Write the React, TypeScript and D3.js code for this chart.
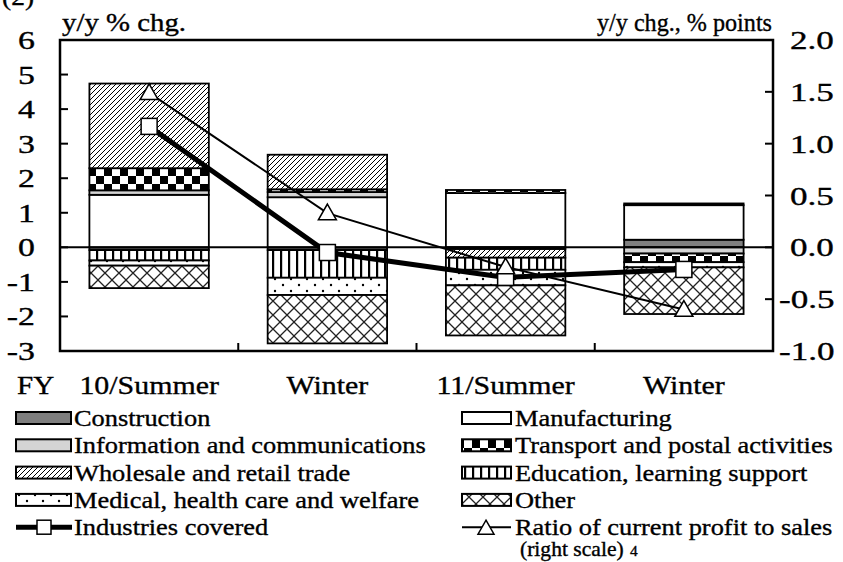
import React from 'react';
import * as d3 from 'd3';

const categories = ['10/Summer', 'Winter', '11/Summer', 'Winter'];

// contributions, y/y % chg. (left scale)
const construction = [-0.08, -0.08, 0, 0.22];
const manufacturing = [1.52, 1.45, 1.57, 1.0];
const infoComm = [0.13, 0.15, -0.05, -0.18];
const transport = [0.64, 0.08, 0.09, -0.25];
const wholesale = [2.45, 1.0, -0.25, 0.05];
const education = [-0.3, -0.8, -0.35, 0];
const medical = [-0.15, -0.5, -0.45, -0.15];
const other = [-0.65, -1.4, -1.45, -1.35];

const industriesCovered = [3.5, -0.15, -0.87, -0.64];
const profitRatio = [1.49, 0.33, -0.19, -0.6]; // right scale

const leftTicks = [-3, -2, -1, 0, 1, 2, 3, 4, 5, 6];
const rightTicks = [-1.0, -0.5, 0.0, 0.5, 1.0, 1.5, 2.0];

const W = 843;
const H = 562;
const FONT = 'Liberation Serif';

const series = [
  { key: 'construction', label: 'Construction', values: construction, fill: '#7f7f7f' },
  { key: 'manufacturing', label: 'Manufacturing', values: manufacturing, fill: '#ffffff' },
  { key: 'infoComm', label: 'Information and communications', values: infoComm, fill: '#d4d4d4' },
  { key: 'transport', label: 'Transport and postal activities', values: transport, fill: 'url(#pat-check)' },
  { key: 'wholesale', label: 'Wholesale and retail trade', values: wholesale, fill: 'url(#pat-hatch)' },
  { key: 'education', label: 'Education, learning support', values: education, fill: 'url(#pat-vert)' },
  { key: 'medical', label: 'Medical, health care and welfare', values: medical, fill: 'url(#pat-dots)' },
  { key: 'other', label: 'Other', values: other, fill: 'url(#pat-diamond)' },
];

const T = ({ x, y, children, anchor = 'start', size = 25, sx = 1.1, len }: any) => (
  <text
    transform={`translate(${x},${y}) scale(${sx},1)`}
    textAnchor={anchor}
    style={{ fontFamily: FONT, fontSize: size }}
    fill="#000"
    stroke="#000"
    strokeWidth={0.35}
    textLength={len}
    lengthAdjust={len ? 'spacingAndGlyphs' : undefined}
  >
    {children}
  </text>
);

const App = () => {
  const left = 60;
  const right = 773;
  const top = 40;
  const bottom = 351;

  const x = d3.scaleBand<number>()
    .domain(categories.map((_, i) => i))
    .range([left, right])
    .paddingInner(0.33)
    .paddingOuter(0.165);
  const cx = (i: number) => (x(i) as number) + x.bandwidth() / 2;
  const yL = d3.scaleLinear().domain([-3, 6]).range([bottom, top]);
  const yR = d3.scaleLinear().domain([-1, 2]).range([bottom, top]);

  const rows = categories.map((_, i) => {
    const r: any = { i };
    series.forEach(s => { r[s.key] = s.values[i]; });
    return r;
  });
  const stacked = d3.stack<any>()
    .keys(series.map(s => s.key))
    .offset(d3.stackOffsetDiverging)(rows);

  const lineL = d3.line<number>().x((_, i) => cx(i)).y(d => yL(d));
  const lineR = d3.line<number>().x((_, i) => cx(i)).y(d => yR(d));

  const step = (right - left) / categories.length;
  const fmtR = (v: number) => d3.format('.1f')(v).replace('−', '-');
  const tri = (px: number, py: number, s = 9) =>
    `M${px},${py - s} L${px + s},${py + s * 0.75} L${px - s},${py + s * 0.75} Z`;

  const legendLeft = [0, 2, 4, 6];
  const legendRight = [1, 3, 5, 7];
  const rowY = (k: number) => 418 + k * 27.3;

  return (
    <svg width={W} height={H} style={{ position: 'absolute', left: 0, top: 0, background: '#fff' }}>
      <defs>
        <pattern id="pat-check" width="16" height="16" patternUnits="userSpaceOnUse">
          <rect width="16" height="16" fill="#fff" />
          <rect x="0" y="0" width="8" height="8" fill="#000" />
          <rect x="8" y="8" width="8" height="8" fill="#000" />
        </pattern>
        <pattern id="pat-hatch" width="5" height="5" patternUnits="userSpaceOnUse">
          <rect width="5" height="5" fill="#fff" />
          <path d="M-1,6 L6,-1 M-1,1 L1,-1 M4,6 L6,4" stroke="#000" strokeWidth="1" />
        </pattern>
        <pattern id="pat-vert" width="8" height="8" patternUnits="userSpaceOnUse">
          <rect width="8" height="8" fill="#fff" />
          <rect x="0" y="0" width="2.2" height="8" fill="#000" />
        </pattern>
        <pattern id="pat-dots" width="16" height="12" patternUnits="userSpaceOnUse">
          <rect width="16" height="12" fill="#fff" />
          <circle cx="3" cy="3" r="1.2" fill="#000" />
          <circle cx="11" cy="9" r="1.2" fill="#000" />
        </pattern>
        <pattern id="pat-diamond" width="14" height="14" patternUnits="userSpaceOnUse">
          <rect width="14" height="14" fill="#fff" />
          <path d="M0,0 L14,14 M14,0 L0,14" stroke="#222" strokeWidth="1.3" />
        </pattern>
      </defs>

      {/* cut-off panel title */}
      <T x={2} y={5}>(2)</T>

      {/* bars */}
      {stacked.map((layer, si) => (
        <g key={layer.key} fill={series[si].fill} stroke="#000" strokeWidth={1.8}>
          {layer.map((d, i) => {
            const h = Math.abs(yL(d[0]) - yL(d[1]));
            if (h < 0.5) return null;
            return (
              <rect
                key={i}
                x={x(i)}
                y={Math.min(yL(d[0]), yL(d[1]))}
                width={x.bandwidth()}
                height={h}
              />
            );
          })}
        </g>
      ))}

      {/* zero line */}
      <line x1={left} x2={right} y1={yL(0)} y2={yL(0)} stroke="#000" strokeWidth={2} />

      {/* frame */}
      <rect x={left} y={top} width={right - left} height={bottom - top} fill="none" stroke="#000" strokeWidth={2.5} />

      {/* left ticks */}
      {leftTicks.map(t => (
        <g key={t}>
          <line x1={left} x2={left + 8} y1={yL(t)} y2={yL(t)} stroke="#000" strokeWidth={2} />
          <T x={35} y={yL(t) + 9} anchor="end" size={26} sx={1.3}>{String(t)}</T>
        </g>
      ))}
      {/* right ticks */}
      {rightTicks.map(t => (
        <g key={t}>
          <line x1={right - 8} x2={right} y1={yR(t)} y2={yR(t)} stroke="#000" strokeWidth={2} />
          <T x={t < 0 ? 779 : 790} y={yR(t) + 9} size={26} sx={1.35}>{fmtR(t)}</T>
        </g>
      ))}
      {/* x ticks between categories */}
      {d3.range(1, categories.length).map(k => (
        <line key={k} x1={left + k * step} x2={left + k * step} y1={bottom} y2={bottom - 8} stroke="#000" strokeWidth={2} />
      ))}

      {/* lines */}
      <path d={lineR(profitRatio) || ''} fill="none" stroke="#000" strokeWidth={2} />
      <path d={lineL(industriesCovered) || ''} fill="none" stroke="#000" strokeWidth={5} />
      {industriesCovered.map((v, i) => (
        <rect key={i} x={cx(i) - 8} y={yL(v) - 8} width={16} height={16} fill="#fff" stroke="#000" strokeWidth={1.5} />
      ))}
      {profitRatio.map((v, i) => (
        <path key={i} d={tri(cx(i), yR(v))} fill="#fff" stroke="#000" strokeWidth={1.5} />
      ))}

      {/* axis titles */}
      <T x={62} y={31} sx={1} len={124}>y/y % chg.</T>
      <T x={597} y={31} sx={1} len={175}>y/y chg., % points</T>

      {/* category labels */}
      <T x={17} y={394} size={26} sx={1.12}>FY</T>
      {categories.map((c, i) => (
        <T key={i} x={cx(i)} y={394} anchor="middle" size={26} sx={1.15}>{c}</T>
      ))}

      {/* legend */}
      {legendLeft.map((si, k) => (
        <g key={series[si].key}>
          <rect x={16} y={rowY(k) - 6} width={55} height={12} fill={series[si].fill} stroke="#000" strokeWidth={2} />
          <T x={74} y={rowY(k) + 8} size={24}>{series[si].label}</T>
        </g>
      ))}
      {legendRight.map((si, k) => (
        <g key={series[si].key}>
          <rect x={462} y={rowY(k) - 6} width={49} height={12} fill={series[si].fill} stroke="#000" strokeWidth={2} />
          <T x={515} y={rowY(k) + 8} size={24}>{series[si].label}</T>
        </g>
      ))}
      <g>
        <line x1={16} x2={72} y1={rowY(4)} y2={rowY(4)} stroke="#000" strokeWidth={5} />
        <rect x={37} y={rowY(4) - 7} width={14} height={14} fill="#fff" stroke="#000" strokeWidth={1.5} />
        <T x={74} y={rowY(4) + 8} size={24}>Industries covered</T>
      </g>
      <g>
        <line x1={462} x2={511} y1={rowY(4)} y2={rowY(4)} stroke="#000" strokeWidth={2} />
        <path d={tri(486, rowY(4) + 1, 8)} fill="#fff" stroke="#000" strokeWidth={1.5} />
        <T x={515} y={rowY(4) + 8} size={24}>Ratio of current profit to sales</T>
        <T x={520} y={rowY(4) + 29} size={20} sx={1.08}>(right scale)</T>
        <T x={630} y={rowY(4) + 29} size={14}>4</T>
      </g>
    </svg>
  );
};

export default App;
